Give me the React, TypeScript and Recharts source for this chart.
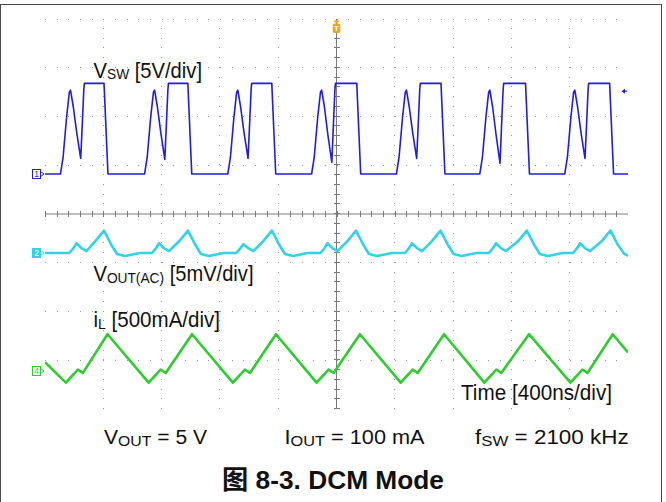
import React from 'react';
import { LineChart, Line, XAxis, YAxis, ReferenceLine, ReferenceDot } from 'recharts';

// scope screen: 10 div x 400 ns, 8 div vertical
const W = 666;
const H = 502;

// CH1 - switch node voltage (V)
const vswTime = [
  0, 106, 124, 148, 167, 175, 194, 218, 245, 257, 266, 270, 405, 432,
  683, 701, 725, 744, 752, 771, 795, 822, 834, 843, 847, 980, 1007,
  1254, 1272, 1296, 1315, 1323, 1342, 1366, 1393, 1405, 1414, 1418, 1556, 1583,
  1829, 1847, 1871, 1890, 1898, 1917, 1941, 1968, 1980, 1989, 1993, 2139, 2166,
  2411, 2429, 2453, 2472, 2480, 2499, 2523, 2550, 2562, 2571, 2575, 2717, 2744,
  2983, 3001, 3025, 3044, 3052, 3071, 3095, 3122, 3134, 3143, 3147, 3297, 3324,
  3566, 3584, 3608, 3627, 3635, 3654, 3678, 3705, 3717, 3726, 3730, 3874, 3901, 4000,
];
const vswVolts = [
  0, 0, 1.7, 5.8, 8.4, 8.6, 6.9, 4.2, 1.6, 5.5, 8.6, 9.3, 9.3, 0,
  0, 1.7, 5.8, 8.4, 8.6, 6.9, 4.2, 1.5, 5.5, 8.6, 9.3, 9.3, 0,
  0, 1.7, 5.8, 8.4, 8.6, 6.9, 4.2, 1.6, 5.5, 8.6, 9.3, 9.3, 0,
  0, 1.7, 5.8, 8.4, 8.6, 6.9, 4.0, 1.2, 5.5, 8.6, 9.3, 9.3, 0,
  0, 1.7, 5.8, 8.4, 8.6, 6.9, 4.2, 1.6, 5.5, 8.6, 9.3, 9.3, 0,
  0, 1.7, 5.8, 8.4, 8.6, 6.9, 4.0, 1.1, 5.5, 8.6, 9.3, 9.3, 0,
  0, 1.7, 5.8, 8.4, 8.6, 6.9, 4.2, 1.6, 5.5, 8.6, 9.3, 9.3, 0, 0,
];

// CH2 - output ripple, AC coupled (mV)
const voutTime = [
  0, 168, 196, 216, 250, 285, 344, 405, 453, 494, 549, 652,
  734, 762, 782, 816, 851, 920, 981, 1029, 1070, 1125, 1228,
  1313, 1341, 1361, 1395, 1430, 1496, 1557, 1605, 1646, 1701, 1804,
  1890, 1918, 1938, 1972, 2007, 2073, 2134, 2182, 2223, 2278, 2381,
  2470, 2498, 2518, 2552, 2587, 2653, 2714, 2762, 2803, 2858, 2961,
  3046, 3074, 3094, 3128, 3163, 3245, 3306, 3354, 3395, 3450, 3553,
  3623, 3651, 3671, 3705, 3740, 3819, 3880, 3928, 3975, 4000,
];
const voutMv = [
  0, 0, 0.5, 1.0, 0.5, 0.2, 1.2, 2.3, 0.9, -0.1, -0.3, 0,
  0, 0.5, 1.0, 0.5, 0.2, 1.2, 2.3, 0.9, -0.1, -0.3, 0,
  0, 0.5, 0.9, 0.5, 0.2, 1.2, 2.3, 0.9, -0.1, -0.3, 0,
  0, 0.5, 1.0, 0.5, 0.2, 1.2, 2.3, 0.9, -0.1, -0.3, 0,
  0, 0.5, 1.0, 0.5, 0.2, 1.2, 2.3, 0.9, -0.1, -0.3, 0,
  0, 0.5, 1.0, 0.5, 0.2, 1.2, 2.3, 0.9, -0.1, -0.3, 0,
  0, 0.5, 1.0, 0.5, 0.2, 1.2, 2.3, 0.9, -0.1, -0.3,
];

// CH4 - inductor current (mA)
const ilTime = [
  0, 143, 198, 225, 260, 429,
  711, 766, 793, 828, 1009,
  1289, 1344, 1371, 1406, 1585,
  1863, 1918, 1945, 1980, 2161,
  2440, 2495, 2522, 2557, 2738,
  3014, 3069, 3096, 3131, 3321,
  3605, 3660, 3687, 3722, 3895, 4000,
];
const ilMa = [
  90, -120, -31, 15, -20, 377,
  -120, -31, 15, -20, 377,
  -120, -31, 15, -20, 377,
  -120, -31, 15, -20, 377,
  -120, -31, 15, -20, 377,
  -120, -31, 15, -20, 377,
  -120, -31, 15, -20, 377, 190,
];

// channel ground marker (div from centre) and scale per div
const ch1 = { offset: 0.82, perDiv: 5, color: '#1e1ee0' };
const ch2 = { offset: -0.8, perDiv: 5, color: '#33d2e4' };
const ch4 = { offset: -3.22, perDiv: 500, color: '#2fcc2f' };
const trigLevelV = 8.5;

const toDivs = (time: number[], vals: number[], ch: { offset: number; perDiv: number }) =>
  time.map((t, i) => ({ t, v: ch.offset + vals[i] / ch.perDiv }));

const vswData = toDivs(vswTime, vswVolts, ch1);
const voutData = toDivs(voutTime, voutMv, ch2);
const ilData = toDivs(ilTime, ilMa, ch4);

// graticule
const minorX = Array.from({ length: 51 }, (_, i) => i * 80);
const minorY = Array.from({ length: 41 }, (_, i) => Math.round((-4 + i * 0.2) * 100) / 100);
const gridX = [400, 800, 1200, 1600, 2400, 2800, 3200, 3600];
const gridY = [-3, -2, -1, 1, 2, 3, 4];

const GRID = '#9a9a9a';
const FRAME = '#7a7a7a';
const FONT = '"Liberation Sans", Arial, Helvetica, sans-serif';

const chMarker = (label: string, color: string, filled: boolean) => (props: any) => {
  const { cx, cy } = props;
  return (
    <g>
      <rect x={cx - 12.5} y={cy - 4.5} width={8} height={9} fill={filled ? color : '#fff'} stroke={color} strokeWidth={1} />
      <text x={cx - 8.5} y={cy + 3.2} fontSize={8.5} fontFamily={FONT} textAnchor="middle" fill={filled ? '#fff' : color}>
        {label}
      </text>
      <path d={`M${cx - 4.5},${cy - 2.5} L${cx - 1},${cy} L${cx - 4.5},${cy + 2.5}`} fill="none" stroke={color} strokeWidth={1} />
    </g>
  );
};

const TriggerMarker = (props: any) => {
  const { cx, cy } = props;
  return (
    <g>
      <path d={`M${cx - 3.5},${cy + 1.5} L${cx + 3.5},${cy + 1.5} L${cx},${cy + 4.5} Z`} fill="#f2a21e" />
      <rect x={cx - 3.8} y={cy + 4.5} width={7.6} height={9.5} rx={2} fill="#f2a21e" />
      <text x={cx} y={cy + 12.2} fontSize={8} fontWeight="bold" fontFamily={FONT} textAnchor="middle" fill="#fff">
        T
      </text>
    </g>
  );
};

const LevelMarker = (props: any) => {
  const { cx, cy } = props;
  return (
    <g>
      <path d={`M${cx - 6.5},${cy} L${cx - 3},${cy - 2.5} L${cx - 3},${cy + 2.5} Z`} fill={ch1.color} />
      <line x1={cx - 3} y1={cy} x2={cx - 1} y2={cy} stroke={ch1.color} strokeWidth={1.2} />
    </g>
  );
};

export default function App() {
  return (
    <div style={{ position: 'absolute', left: 0, top: 0, width: W, height: H, overflow: 'hidden', background: '#fff' }}>
      <div
        style={{
          position: 'absolute',
          left: 0,
          top: 4,
          width: 662,
          height: 600,
          border: '1.5px solid #4a4a4a',
          boxSizing: 'border-box',
        }}
      />
      <div style={{ position: 'absolute', left: 0, top: 0 }}>
        <LineChart width={W} height={H} margin={{ top: 19, right: 38, bottom: 93, left: 45 }}>
          <XAxis
            type="number"
            dataKey="t"
            domain={[0, 4000]}
            ticks={minorX}
            interval={0}
            allowDataOverflow
            mirror
            height={0}
            tick={false}
            tickSize={4}
            tickLine={{ stroke: FRAME }}
            axisLine={{ stroke: FRAME, strokeWidth: 1.2 }}
          />
          <XAxis
            xAxisId="top"
            orientation="top"
            type="number"
            domain={[0, 4000]}
            ticks={minorX}
            interval={0}
            allowDataOverflow
            mirror
            height={0}
            tick={false}
            tickSize={3}
            tickLine={{ stroke: GRID }}
            axisLine={false}
          />
          <YAxis
            type="number"
            domain={[-4, 4]}
            ticks={minorY}
            interval={0}
            allowDataOverflow
            mirror
            width={0}
            tick={false}
            tickSize={4}
            tickLine={{ stroke: FRAME }}
            axisLine={{ stroke: '#5a5a5a', strokeWidth: 1.6 }}
          />
          <YAxis
            yAxisId="right"
            orientation="right"
            type="number"
            domain={[-4, 4]}
            ticks={minorY}
            interval={0}
            allowDataOverflow
            mirror
            width={0}
            tick={false}
            tickSize={4}
            tickLine={{ stroke: FRAME }}
            axisLine={{ stroke: FRAME, strokeWidth: 1.2 }}
          />

          {gridX.map((x) => (
            <ReferenceLine key={'gx' + x} x={x} stroke={GRID} strokeWidth={1} strokeDasharray="1 8.75" shapeRendering="crispEdges" />
          ))}
          {gridY.map((y) => (
            <ReferenceLine key={'gy' + y} y={y} stroke={GRID} strokeWidth={1} strokeDasharray="1 10.66" shapeRendering="crispEdges" />
          ))}

          {/* centre crosshair with minor ticks */}
          <ReferenceLine x={2000} stroke={FRAME} strokeWidth={1} />
          <ReferenceLine y={0} stroke={FRAME} strokeWidth={1} />
          <ReferenceLine x={2000} stroke={FRAME} strokeWidth={6} strokeDasharray="1 8.75" shapeRendering="crispEdges" />
          <ReferenceLine y={0} stroke={FRAME} strokeWidth={6} strokeDasharray="1 10.66" shapeRendering="crispEdges" />

          <Line data={vswData} dataKey="v" type="linear" stroke={ch1.color} strokeWidth={1.6} dot={false} isAnimationActive={false} strokeLinejoin="round" />
          <Line data={voutData} dataKey="v" type="linear" stroke={ch2.color} strokeWidth={2.6} dot={false} isAnimationActive={false} strokeLinejoin="round" />
          <Line data={ilData} dataKey="v" type="linear" stroke={ch4.color} strokeWidth={2.6} dot={false} isAnimationActive={false} strokeLinejoin="round" />

          <ReferenceDot x={0} y={ch1.offset} r={0} ifOverflow="visible" shape={chMarker('1', ch1.color, false)} />
          <ReferenceDot x={0} y={ch2.offset} r={0} ifOverflow="visible" shape={chMarker('2', ch2.color, true)} />
          <ReferenceDot x={0} y={ch4.offset} r={0} ifOverflow="visible" shape={chMarker('4', ch4.color, false)} />
          <ReferenceDot x={2000} y={4} r={0} ifOverflow="visible" shape={TriggerMarker} />
          <ReferenceDot x={4000} y={ch1.offset + trigLevelV / ch1.perDiv} r={0} ifOverflow="visible" shape={LevelMarker} />
        </LineChart>
      </div>

      <svg width={W} height={H} style={{ position: 'absolute', left: 0, top: 0, pointerEvents: 'none' }} fontFamily={FONT}>
        <text x={93.5} y={78} fontSize={22} fill="#111" textLength={108.5} lengthAdjust="spacingAndGlyphs">
          V<tspan fontSize={15} dy={1}>SW</tspan>
          <tspan dy={-1}>{' [5V/div]'}</tspan>
        </text>
        <text x={93.5} y={281} fontSize={22} fill="#111" textLength={160} lengthAdjust="spacingAndGlyphs">
          V<tspan fontSize={15} dy={2}>OUT(AC)</tspan>
          <tspan dy={-2}>{' [5mV/div]'}</tspan>
        </text>
        <text x={93.5} y={327} fontSize={22} fill="#111" textLength={126.5} lengthAdjust="spacingAndGlyphs">
          i<tspan fontSize={15} dy={2}>L</tspan>
          <tspan dy={-2}>{' [500mA/div]'}</tspan>
        </text>
        <text x={461} y={400} fontSize={22} fill="#111" textLength={151} lengthAdjust="spacingAndGlyphs">
          Time [400ns/div]
        </text>

        <text x={104} y={443.5} fontSize={20} fill="#111" textLength={103} lengthAdjust="spacingAndGlyphs">
          V<tspan fontSize={15} dy={2}>OUT</tspan>
          <tspan dy={-2}>{' = 5 V'}</tspan>
        </text>
        <text x={284.6} y={443.5} fontSize={20} fill="#111" textLength={140} lengthAdjust="spacingAndGlyphs">
          I<tspan fontSize={15} dy={2}>OUT</tspan>
          <tspan dy={-2}>{' = 100 mA'}</tspan>
        </text>
        <text x={475} y={443.5} fontSize={20} fill="#111" textLength={153.7} lengthAdjust="spacingAndGlyphs">
          f<tspan fontSize={15} dy={2}>SW</tspan>
          <tspan dy={-2}>{' = 2100 kHz'}</tspan>
        </text>

        <text
          x={222}
          y={489}
          fontSize={26}
          fontWeight="bold"
          fill="#111"
          fontFamily={'"Liberation Sans", Arial, "Noto Sans CJK SC", sans-serif'}
          textLength={222}
          lengthAdjust="spacingAndGlyphs"
        >
          图 8-3. DCM Mode
        </text>
      </svg>
    </div>
  );
}
